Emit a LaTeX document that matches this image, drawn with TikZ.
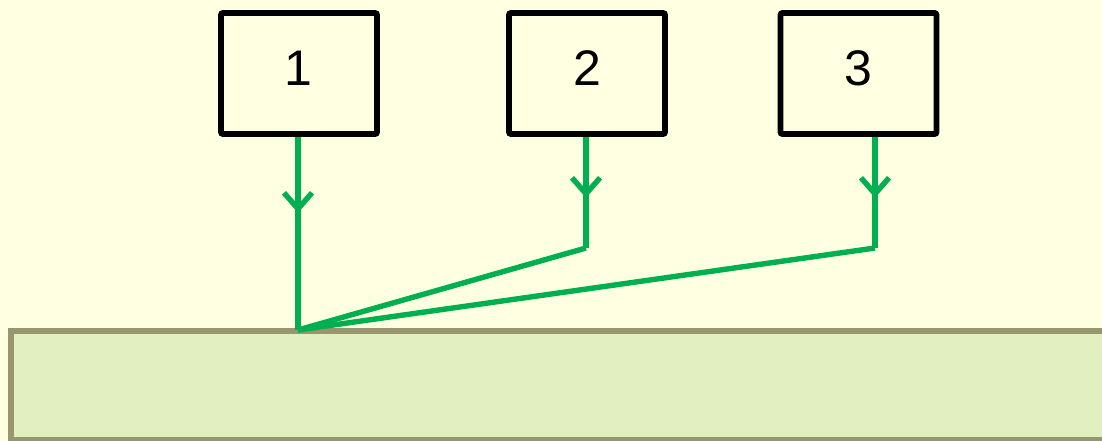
\documentclass[tikz,border=0pt]{standalone}
\usepackage{fontspec}
\setmainfont{Liberation Sans}
\usetikzlibrary{arrows.meta,decorations.markings,calc}
\definecolor{paper}{HTML}{FFFFE1}
\definecolor{flowgreen}{HTML}{00B050}
\definecolor{barfill}{HTML}{E2EFC0}
\definecolor{barline}{HTML}{97966E}
\tikzset{
  numbox/.style={draw=black, line width=5.8pt, rounded corners=2pt, fill=paper,
    minimum width=156pt, minimum height=121pt, inner sep=0pt},
  numtext/.style={font=\fontsize{50}{54}\selectfont},
  flow/.style={draw=flowgreen, line width=5.4pt},
  barb/.style={postaction={decorate}, decoration={markings,
    mark=at position #1 with {\arrow{Straight Barb[length=16pt,width=28pt]}}}},
}
\begin{document}
\begin{tikzpicture}[x=1pt,y=-1pt]
  \useasboundingbox[fill=paper] (0,0) rectangle (1102,441);
  % base bar, running off the right edge
  \draw[draw=barline, fill=barfill, line width=5.8pt]
    (11,331) rectangle (1115,440);
  \coordinate (j) at (298,330);
  % numbered boxes
  \node[numbox] (a1) at (299,73.5) {};
  \node[numbox] (a2) at (587,73.5) {};
  \node[numbox] (a3) at (858.5,73.5) {};
  \node[numtext] at (298,68) {1};
  \node[numtext] at (587,68) {2};
  \node[numtext] at (858,68) {3};
  % connectors
  \coordinate (s1) at (a1.south -| 298,0);
  \coordinate (s2) at (a2.south -| 586,0);
  \coordinate (s3) at (a3.south -| 875,0);
  \coordinate (b2) at (586,248);
  \coordinate (b3) at (875,248);
  \draw[flow, barb=76pt] (s1) -- (j);
  \draw[flow, barb=61pt] (s2) -- (b2);
  \draw[flow, barb=61pt] (s3) -- (b3);
  \draw[flow] (b2) -- (j);
  \draw[flow] (b3) -- (j);
\end{tikzpicture}
\end{document}
